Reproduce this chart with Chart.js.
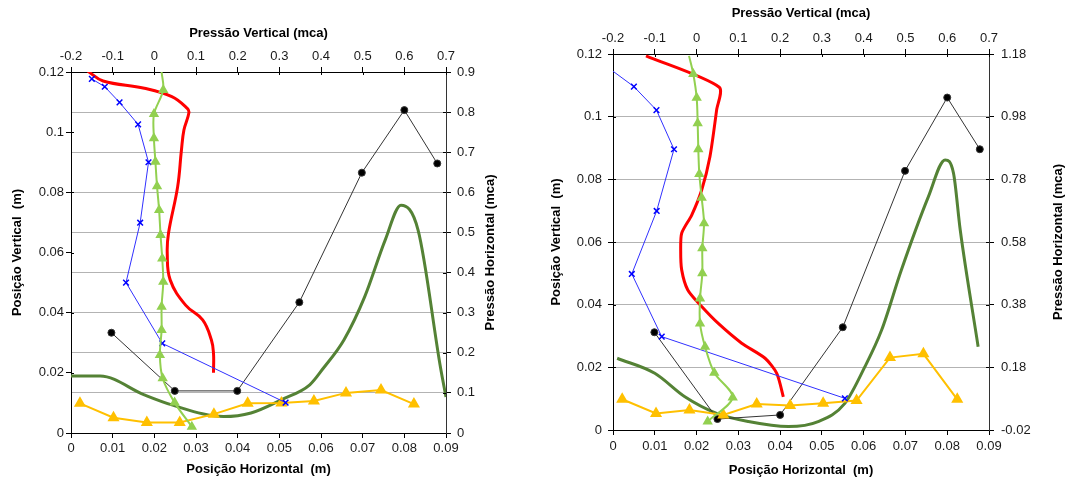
<!DOCTYPE html>
<html>
<head>
<meta charset="utf-8">
<script src="https://cdn.jsdelivr.net/npm/chart.js@4/dist/chart.umd.min.js"></script>
<style>
  body { margin: 0; background: #fff; }
  #wrap { position: relative; width: 1070px; height: 481px; }
  canvas { position: absolute; top: 0; }
  #chartA { left: 0; }
  #chartB { left: 535px; }
</style>
</head>
<body>
<div id="wrap">
  <canvas id="chartA" width="535" height="481"></canvas>
  <canvas id="chartB" width="535" height="481"></canvas>
</div>
<script>
// eixos (rótulos dos ticks)
const ticksPosHoriz = [0, 0.01, 0.02, 0.03, 0.04, 0.05, 0.06, 0.07, 0.08, 0.09];
const ticksPressVert = [-0.2, -0.1, 0, 0.1, 0.2, 0.3, 0.4, 0.5, 0.6, 0.7];
const ticksPosVert = [0, 0.02, 0.04, 0.06, 0.08, 0.1, 0.12];
const ticksPressHorizA = [0, 0.1, 0.2, 0.3, 0.4, 0.5, 0.6, 0.7, 0.8, 0.9];
const ticksPressHorizB = [-0.02, 0.18, 0.38, 0.58, 0.78, 0.98, 1.18];

// ---- gráfico A (esquerda) ----
// perfis verticais: pressão vertical (x topo) x posição vertical (y esquerdo)
const azulA_p = [-0.150, -0.119, -0.0835, -0.039, -0.014, -0.034, -0.068, 0.019, 0.315];
const azulA_y = [0.1177, 0.1151, 0.1099, 0.1026, 0.0900, 0.0699, 0.0500, 0.0298, 0.0101];
const vermA_p = [-0.160, -0.123, -0.024, 0.042, 0.079, 0.083, 0.071, 0.065, 0.056, 0.034, 0.031, 0.038, 0.075, 0.116, 0.137, 0.142, 0.142];
const vermA_y = [0.1203, 0.1170, 0.1146, 0.1118, 0.1079, 0.1065, 0.1007, 0.0940, 0.0819, 0.0664, 0.0597, 0.0509, 0.0425, 0.0376, 0.0309, 0.0265, 0.0200];
const verdeA_p = [0.0174, 0.0214, -0.0009, -0.001, 0.0026, 0.0065, 0.0115, 0.0149, 0.019, 0.0214, 0.0174, 0.0174, 0.0133, 0.020, 0.0487, 0.090];
const verdeA_y = [0.1200, 0.1140, 0.1060, 0.0980, 0.0902, 0.0820, 0.0741, 0.0658, 0.0580, 0.0503, 0.0420, 0.0342, 0.0259, 0.0182, 0.0101, 0.0021];
// perfis horizontais: posição horizontal (x base) x pressão horizontal (y direito)
const pretoA_x = [0.0097, 0.0249, 0.0399, 0.0548, 0.0698, 0.0800, 0.0879];
const pretoA_p = [0.250, 0.105, 0.105, 0.326, 0.649, 0.805, 0.672];
const laranjaA_x = [0.00215, 0.0102, 0.0182, 0.0261, 0.0343, 0.0424, 0.0505, 0.0583, 0.066, 0.0744, 0.0823];
const laranjaA_p = [0.074, 0.038, 0.026, 0.026, 0.047, 0.074, 0.075, 0.080, 0.100, 0.107, 0.072];
const escuroA_x = [0, 0.007, 0.0176, 0.0242, 0.0366, 0.0432, 0.0507, 0.0573, 0.0606, 0.0655, 0.0705, 0.0754, 0.0792, 0.0833, 0.0887, 0.09];
const escuroA_p = [0.142, 0.142, 0.095, 0.070, 0.041, 0.050, 0.084, 0.120, 0.162, 0.232, 0.340, 0.481, 0.568, 0.506, 0.162, 0.090];

// ---- gráfico B (direita) ----
const azulB_p = [-0.2, -0.150, -0.096, -0.054, -0.0955, -0.155, -0.0834, 0.355];
const azulB_y = [0.1145, 0.1096, 0.1021, 0.0896, 0.0699, 0.0498, 0.0298, 0.0101];
const vermB_p = [-0.121, 0.0544, 0.048, 0.032, 0.0123, -0.0116, -0.0356, -0.038, -0.0356, -0.021, 0.0123, 0.052, 0.108, 0.164, 0.192, 0.2077];
const vermB_y = [0.1194, 0.1094, 0.1021, 0.0872, 0.0766, 0.0686, 0.0628, 0.0574, 0.0511, 0.0447, 0.0394, 0.0340, 0.0277, 0.0229, 0.0181, 0.0106];
const verdeB_p = [-0.018, -0.0078, 0.0003, 0.0027, 0.0042, 0.0066, 0.0123, 0.0179, 0.0138, 0.0138, 0.0083, 0.0083, 0.0203, 0.0424, 0.0865, 0.0266];
const verdeB_y = [0.1194, 0.1136, 0.1060, 0.0979, 0.0896, 0.0817, 0.0741, 0.0660, 0.0580, 0.0500, 0.0420, 0.0340, 0.0266, 0.0183, 0.0104, 0.0027];
const pretoB_x = [0.0099, 0.025, 0.040, 0.055, 0.0699, 0.080, 0.0878];
const pretoB_p = [0.292, 0.015, 0.028, 0.308, 0.807, 1.041, 0.876];
const laranjaB_x = [0.0022, 0.0103, 0.0183, 0.0264, 0.0344, 0.0424, 0.0503, 0.0583, 0.0663, 0.0743, 0.0824];
const laranjaB_p = [0.078, 0.033, 0.044, 0.028, 0.063, 0.058, 0.065, 0.074, 0.211, 0.223, 0.078];
const escuroB_x = [0.001, 0.010, 0.0172, 0.0248, 0.0324, 0.042, 0.0491, 0.0555, 0.0603, 0.0643, 0.069, 0.0755, 0.0795, 0.0815, 0.0831, 0.0874];
const escuroB_p = [0.209, 0.161, 0.086, 0.033, 0.007, -0.009, 0.007, 0.065, 0.182, 0.299, 0.490, 0.725, 0.842, 0.800, 0.620, 0.246];

const fam = '"Liberation Sans", Arial, sans-serif';
const fonte = { family: fam, size: 13 };
const negrito = { family: fam, size: 13, weight: 'bold' };

function pts(xs, ys) {
  return xs.map((x, i) => ({ x: x, y: ys[i] }));
}

const estilos = {
  verdeClaro: { borderColor: '#92d050', backgroundColor: '#92d050', borderWidth: 2, pointStyle: 'triangle',
    pointRadius: c => c.dataIndex === 0 ? 0 : 4, tension: 0.3 },
  azul: { borderColor: '#3030ff', backgroundColor: '#0000ff', borderWidth: 1, pointStyle: 'crossRot',
    pointRadius: c => c.raw.x <= -0.2 ? 0 : 4, pointBorderColor: '#0000ff', pointBorderWidth: 1.5, tension: 0 },
  laranja: { borderColor: '#ffc000', backgroundColor: '#ffc000', borderWidth: 2, pointStyle: 'triangle', pointRadius: 5, tension: 0 },
  vermelho: { borderColor: '#ff0000', borderWidth: 3, pointRadius: 0, tension: 0.4 },
  preto: { borderColor: '#333333', backgroundColor: '#000000', borderWidth: 1, pointStyle: 'circle', pointRadius: 3.5, tension: 0 },
  verdeEscuro: { borderColor: '#548235', borderWidth: 3, pointRadius: 0, cubicInterpolationMode: 'monotone' }
};

function serie(estilo, dados, vertical, extra) {
  return Object.assign({
    data: dados,
    showLine: true,
    xAxisID: vertical ? 'x2' : 'x',
    yAxisID: vertical ? 'y' : 'y2'
  }, estilos[estilo], extra || {});
}

function eixo(pos, lista, tamanho, titulo, tituloPad, tickPad, grade) {
  const horiz = pos === 'top' || pos === 'bottom';
  const pad = pos === 'bottom' ? { bottom: tituloPad } : { top: tituloPad };
  return {
    type: 'linear',
    position: pos,
    min: lista[0],
    max: lista[lista.length - 1],
    afterBuildTicks: s => { s.ticks = lista.map(v => ({ value: v })); },
    afterFit: s => { if (horiz) s.height = tamanho; else s.width = tamanho; },
    ticks: {
      font: fonte, color: '#1a1a1a', padding: tickPad, maxRotation: 0, autoSkip: false,
      callback: v => String(Math.round(v * 1000) / 1000)
    },
    grid: { drawOnChartArea: !!grade, color: '#b3b3b3', tickColor: '#000', tickLength: 5 },
    border: { color: pos === 'right' ? '#333' : '#000', width: 1 },
    title: { display: !!titulo, text: titulo, font: negrito, color: '#000', padding: pad }
  };
}

// título do eixo direito, lido de baixo para cima
const tituloDireita = {
  id: 'tituloDireita',
  afterDraw(chart, args, opts) {
    const { ctx, chartArea } = chart;
    ctx.save();
    ctx.translate(opts.x, (chartArea.top + chartArea.bottom) / 2);
    ctx.rotate(-Math.PI / 2);
    ctx.font = 'bold 13px ' + fam;
    ctx.fillStyle = '#000';
    ctx.textAlign = 'center';
    ctx.textBaseline = 'middle';
    ctx.fillText(opts.text, 0, 0);
    ctx.restore();
  }
};

// pequenos ticks para dentro da área, como no Excel
const ticksInternos = {
  id: 'ticksInternos',
  afterDraw(chart) {
    const { ctx, chartArea: a } = chart;
    ctx.save();
    ctx.strokeStyle = '#000';
    ctx.lineWidth = 1;
    ctx.beginPath();
    Object.values(chart.scales).forEach(s => {
      s.ticks.forEach(t => {
        const p = Math.round(s.getPixelForValue(t.value)) + 0.5;
        if (s.position === 'left') { ctx.moveTo(a.left, p); ctx.lineTo(a.left + 3, p); }
        if (s.position === 'right') { ctx.moveTo(a.right, p); ctx.lineTo(a.right - 3, p); }
        if (s.position === 'top') { ctx.moveTo(p, a.top); ctx.lineTo(p, a.top + 3); }
      });
    });
    ctx.stroke();
    ctx.restore();
  }
};

function opcoes(lay, ticksDir, tituloX) {
  return {
    responsive: false,
    animation: false,
    events: [],
    layout: { padding: 0 },
    plugins: {
      legend: { display: false },
      tooltip: { enabled: false },
      tituloDireita: { text: 'Pressão Horizontal (mca)', x: tituloX }
    },
    scales: {
      x: eixo('bottom', ticksPosHoriz, lay.baixo, 'Posição Horizontal  (m)', lay.tBaixo, lay.pBaixo, false),
      x2: eixo('top', ticksPressVert, lay.topo, 'Pressão Vertical (mca)', lay.tTopo, lay.pTopo, false),
      y: eixo('left', ticksPosVert, lay.esq, 'Posição Vertical  (m)', lay.tEsq, lay.pEsq, false),
      y2: eixo('right', ticksDir, lay.dir, '', 0, lay.pDir, true)
    }
  };
}

new Chart(document.getElementById('chartA'), {
  type: 'scatter',
  data: {
    datasets: [
      serie('verdeClaro', pts(verdeA_p, verdeA_y), true),
      serie('azul', pts(azulA_p, azulA_y), true),
      serie('laranja', pts(laranjaA_x, laranjaA_p), false),
      serie('vermelho', pts(vermA_p, vermA_y), true),
      serie('preto', pts(pretoA_x, pretoA_p), false),
      serie('verdeEscuro', pts(escuroA_x, escuroA_p), false)
    ]
  },
  options: opcoes({ esq: 71, dir: 89, topo: 72, baixo: 48, tEsq: 10, tTopo: 26, tBaixo: 4,
                    pEsq: 2, pDir: 6, pTopo: 3, pBaixo: 3 }, ticksPressHorizA, 490),
  plugins: [tituloDireita, ticksInternos]
});

new Chart(document.getElementById('chartB'), {
  type: 'scatter',
  data: {
    datasets: [
      serie('verdeClaro', pts(verdeB_p, verdeB_y), true),
      serie('azul', pts(azulB_p, azulB_y), true),
      serie('laranja', pts(laranjaB_x, laranjaB_p), false),
      serie('vermelho', pts(vermB_p, vermB_y), true, { tension: 0.25 }),
      serie('preto', pts(pretoB_x, pretoB_p), false),
      serie('verdeEscuro', pts(escuroB_x, escuroB_p), false)
    ]
  },
  options: opcoes({ esq: 78, dir: 81, topo: 54, baixo: 51, tEsq: 14, tTopo: 6, tBaixo: 3,
                    pEsq: 6, pDir: 7, pTopo: 3, pBaixo: 4 }, ticksPressHorizB, 523),
  plugins: [tituloDireita, ticksInternos]
});
</script>
</body>
</html>
